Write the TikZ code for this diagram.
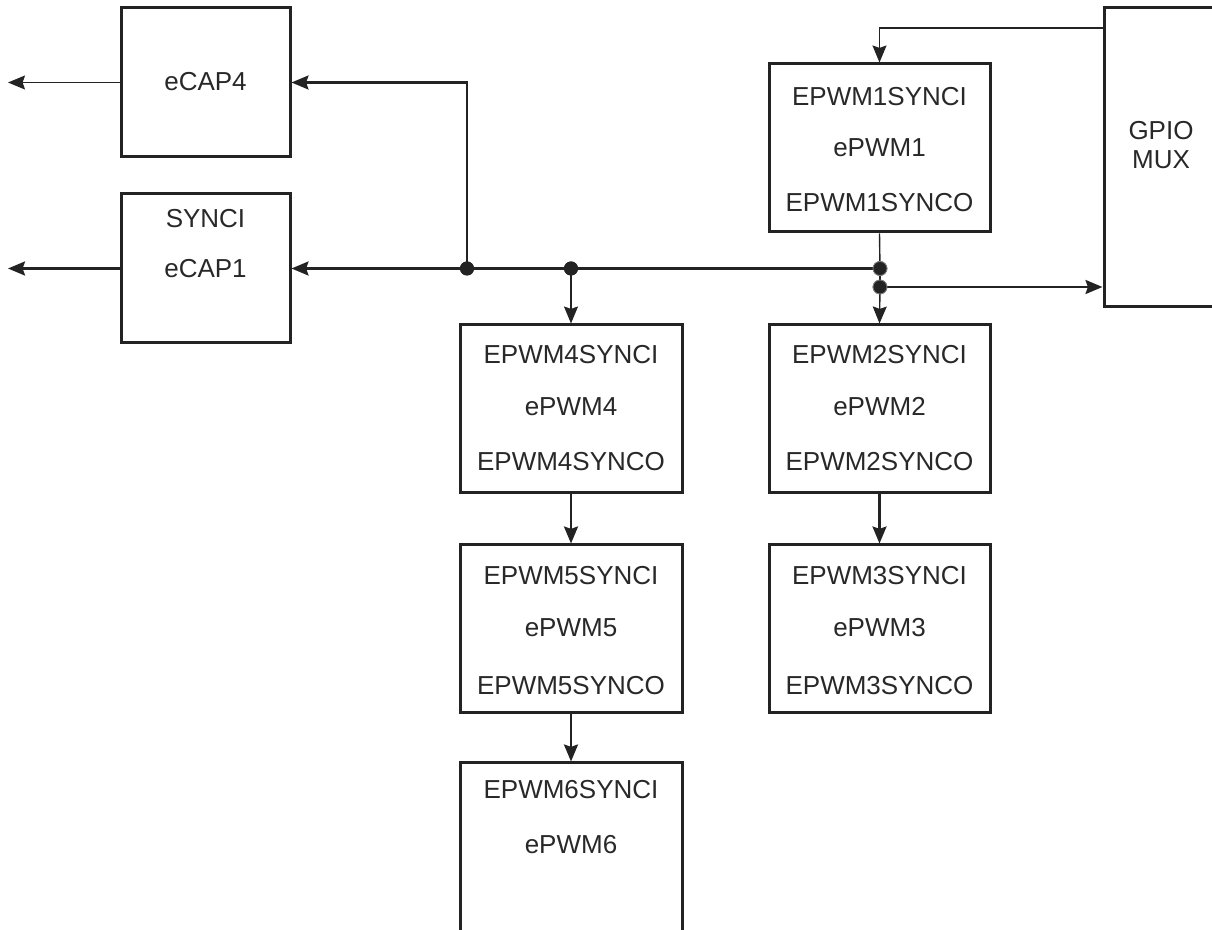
\documentclass[tikz,border=0pt]{standalone}
\usepackage{fontspec}
\setmainfont{Liberation Sans}
\usetikzlibrary{arrows.meta}
\definecolor{ink}{RGB}{35,35,35}
\definecolor{txt}{RGB}{40,40,40}
\tikzset{
  blk/.style={draw=ink, line width=1.5pt, rectangle, inner sep=0pt, fill=none},
  lbl/.style={text=txt, font=\fontsize{13}{15}\selectfont, inner sep=0pt},
  thinw/.style={draw=ink, line width=0.7pt},
  thickw/.style={draw=ink, line width=1.2pt},
  arr/.style={-{Stealth[length=8.5pt,width=7pt,inset=1.2pt]}},
  dot/.style={circle, fill=ink, inner sep=0pt, minimum size=7pt},
  ddot/.style={circle, fill=ink, draw=gray, line width=0.4pt, inner sep=0pt, minimum size=7pt},
}
\begin{document}
\begin{tikzpicture}[x=0.5pt,y=-0.5pt]
\useasboundingbox (0,0) rectangle (1212,930);
% boxes
\node[blk, minimum width=84.5pt, minimum height=74.5pt] (ecap4) at (205.5,82.5) {};
\node[blk, minimum width=84.5pt, minimum height=74.5pt] (ecap1) at (205.5,268.5) {};
\node[blk, minimum width=110.5pt, minimum height=84pt] (epwm1) at (879.5,148) {};
\node[blk, minimum width=110.5pt, minimum height=84pt] (epwm2) at (879.5,409) {};
\node[blk, minimum width=110.5pt, minimum height=84pt] (epwm3) at (879.5,629) {};
\node[blk, minimum width=111pt, minimum height=84pt] (epwm4) at (571,409) {};
\node[blk, minimum width=111pt, minimum height=84pt] (epwm5) at (571,629) {};
\node[blk, minimum width=111pt, minimum height=100pt] (epwm6) at (571,863) {};
\node[blk, minimum width=66pt, minimum height=149.5pt] (gpio) at (1170,157.5) {};
% texts
\node[lbl] (t41) at (205.5,82) {eCAP4};
\node[lbl] (t11) at (205.5,219) {SYNCI};
\node[lbl] (t12) at (205.5,269) {eCAP1};
\node[lbl] (p11) at (879.5,97) {EPWM1SYNCI};
\node[lbl] (p12) at (879.5,148) {ePWM1};
\node[lbl] (p13) at (879.5,203) {EPWM1SYNCO};
\node[lbl] (p21) at (879.5,355) {EPWM2SYNCI};
\node[lbl] (p22) at (879.5,407) {ePWM2};
\node[lbl] (p23) at (879.5,462) {EPWM2SYNCO};
\node[lbl] (p31) at (879.5,576) {EPWM3SYNCI};
\node[lbl] (p32) at (879.5,628) {ePWM3};
\node[lbl] (p33) at (879.5,686) {EPWM3SYNCO};
\node[lbl] (p41) at (571,355) {EPWM4SYNCI};
\node[lbl] (p42) at (571,407) {ePWM4};
\node[lbl] (p43) at (571,462) {EPWM4SYNCO};
\node[lbl] (p51) at (571,576) {EPWM5SYNCI};
\node[lbl] (p52) at (571,628) {ePWM5};
\node[lbl] (p53) at (571,686) {EPWM5SYNCO};
\node[lbl] (p61) at (571,790) {EPWM6SYNCI};
\node[lbl] (p62) at (571,845) {ePWM6};
\node[lbl] (g1t) at (1161,131) {GPIO};
\node[lbl] (g2t) at (1161,160) {MUX};
% coordinates
\coordinate (l4) at (8,82.5);
\coordinate (l1) at (8,268.5);
\coordinate (gin) at (1104,28);
% connectors
\draw[thinw,arr] (ecap4.west) -- (l4);
\draw[thickw,arr] (ecap1.west) -- (l1);
\node[dot] (j1) at (467,268.5) {};
\node[dot] (j2) at (571,268.5) {};
\node[ddot] (j3) at (880,268.5) {};
\node[ddot] (j4) at (880,287) {};
\draw[thickw] (j3.center) -- (j1.center);
\draw[thickw,arr] (j1.center) -- (ecap1.east);
\draw[thickw,arr] (j1.center) |- (ecap4.east);
\draw[thinw,arr] (j2.center) -- (epwm4.north);
\draw[thinw] (epwm1.south) -- (j3.center);
\draw[thinw] (j3.center) -- (j4.center);
\draw[thinw,arr] (j4.center) -- (epwm2.north);
\draw[thickw,arr] (j4.center) -- (gpio.west |- j4);
\draw[thinw,arr] (gin) -| (epwm1.north);
\draw[thickw,arr] (epwm4.south) -- (epwm5.north);
\draw[thickw,arr] (epwm5.south) -- (epwm6.north);
\draw[thickw,arr] (epwm2.south) -- (epwm3.north);
% redraw dots on top
\node[dot] at (j1) {};
\node[dot] at (j2) {};
\node[ddot] at (j3) {};
\node[ddot] at (j4) {};
\end{tikzpicture}
\end{document}
